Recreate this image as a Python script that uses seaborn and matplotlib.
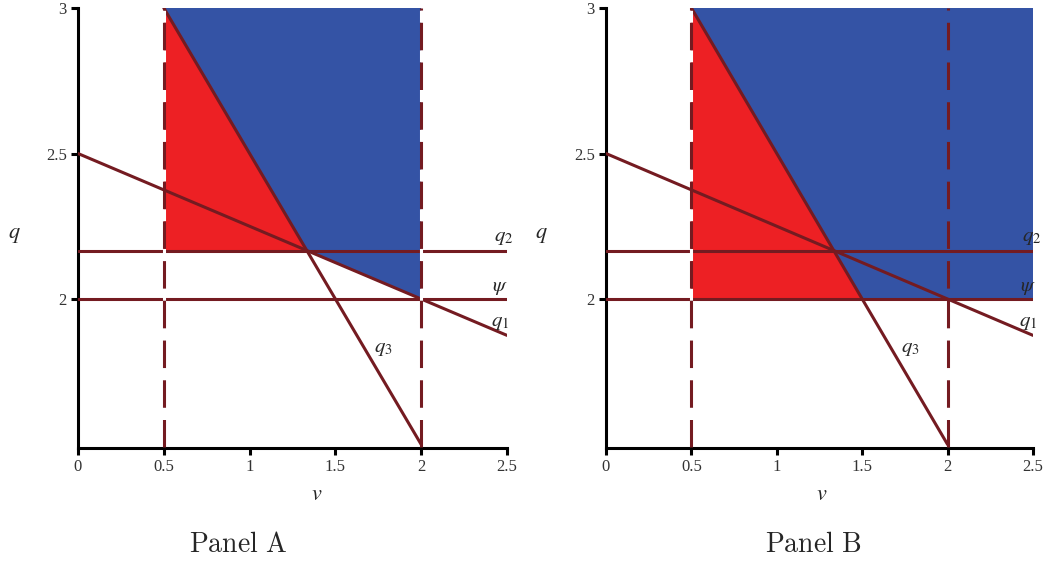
import matplotlib
matplotlib.use("Agg")
import matplotlib.pyplot as plt
import seaborn as sns
import pandas as pd

sns.set_theme(style="ticks")
plt.rcParams["font.family"] = ["Liberation Serif", "DejaVu Serif"]
plt.rcParams["mathtext.fontset"] = "stix"

# Boundary lines
q1_v = [0.0, 2.5]
q1_q = [2.5, 1.875]
q3_v = [0.5, 2.0]
q3_q = [3.0, 1.5]
q2_level = 13 / 6
psi_level = 2.0
v_low, v_high = 0.5, 2.0
q_top = 3.0

# Shaded regions (vertices along v and q)
red_a_v = [0.5, 0.5, 4 / 3]
red_a_q = [3.0, 13 / 6, 13 / 6]
blue_a_v = [0.5, 2.0, 2.0, 4 / 3]
blue_a_q = [3.0, 3.0, 2.0, 13 / 6]
red_b_v = [0.5, 0.5, 1.5]
red_b_q = [3.0, 2.0, 2.0]
blue_b_v = [0.5, 2.5, 2.5, 1.5]
blue_b_q = [3.0, 3.0, 2.0, 2.0]

x_ticks = [0, 0.5, 1, 1.5, 2, 2.5]
x_ticklabels = ["0", "0.5", "1", "1.5", "2", "2.5"]
y_ticks = [2, 2.5, 3]
y_ticklabels = ["2", "2.5", "3"]

RED = "#ED2024"
BLUE = "#3453A5"
LINE = "#741B21"
LW = 2.2

fig = plt.figure(figsize=(10.53, 5.67), dpi=100)
ax_a = fig.add_axes([78 / 1053, 1 - 448 / 567, 429 / 1053, 440 / 567])
ax_b = fig.add_axes([606 / 1053, 1 - 448 / 567, 427 / 1053, 440 / 567])


def hline_df(level):
    return pd.DataFrame({"v": [0.0, 2.5], "q": [level, level]})


def draw_panel(ax, red_v, red_q, blue_v, blue_q, gap_right, label_x, ylab_x, xlab_x):
    ax.fill(red_v, red_q, color=RED, lw=0, zorder=1)
    ax.fill(blue_v, blue_q, color=BLUE, lw=0, zorder=1)

    for level in (q2_level, psi_level):
        sns.lineplot(data=hline_df(level), x="v", y="q", ax=ax, color=LINE,
                     lw=LW, sort=False, zorder=3)
    sns.lineplot(x=q1_v, y=q1_q, ax=ax, color=LINE, lw=LW, sort=False, zorder=3)
    sns.lineplot(x=q3_v, y=q3_q, ax=ax, color=LINE, lw=LW, sort=False, zorder=3)

    ax.plot([v_low, v_low], [1.49, q_top], color=LINE, lw=LW, dashes=(9, 4),
            gapcolor="white", zorder=4)
    if gap_right:
        ax.plot([v_high, v_high], [1.49, q_top], color=LINE, lw=LW,
                dashes=(9, 4), gapcolor="white", zorder=4)
    else:
        ax.plot([v_high, v_high], [1.49, q_top], color=LINE, lw=LW,
                dashes=(9, 4), zorder=4)

    ax.set_xlim(0, 2.5)
    ax.set_ylim(1.488, 3.0)
    ax.set_xticks(x_ticks, x_ticklabels)
    ax.set_yticks(y_ticks, y_ticklabels)
    ax.set_xlabel("")
    ax.set_ylabel("")
    for side in ("top", "right"):
        ax.spines[side].set_visible(False)
    for side in ("left", "bottom"):
        ax.spines[side].set_linewidth(2.2)
        ax.spines[side].set_color("black")
    ax.tick_params(length=5, width=2.2, labelsize=12, colors="black", pad=3)
    ax.tick_params(labelcolor="#333333")
    ax.set_facecolor("white")

    ts = 15
    ax.text(label_x + 0.02, q2_level + 0.045, r"$q_2$", fontsize=ts, ha="center",
            va="center", zorder=5)
    ax.text(label_x, psi_level + 0.04, r"$\psi$", fontsize=ts, ha="center",
            va="center", zorder=5)
    ax.text(label_x, 1.92, r"$q_1$", fontsize=ts, ha="center", va="center",
            zorder=5)
    ax.text(1.78, 1.83, r"$q_3$", fontsize=ts, ha="center", va="center",
            zorder=5)

    ax.text(ylab_x, 0.484, r"$q$", fontsize=16, transform=ax.transAxes,
            ha="center", va="center")
    ax.text(xlab_x, -0.107, r"$v$", fontsize=16, transform=ax.transAxes,
            ha="center", va="center")


draw_panel(ax_a, red_a_v, red_a_q, blue_a_v, blue_a_q, True, 2.46, -0.149, 0.557)
draw_panel(ax_b, red_b_v, red_b_q, blue_b_v, blue_b_q, False, 2.47, -0.152, 0.506)

fig.text(238 / 1053, 1 - 545 / 567, r"$\mathrm{Panel\ A}$", fontsize=20,
         ha="center", va="center", math_fontfamily="cm")
fig.text(813 / 1053, 1 - 545 / 567, r"$\mathrm{Panel\ B}$", fontsize=20,
         ha="center", va="center", math_fontfamily="cm")

fig.savefig("out.png", dpi=100, facecolor="white")
